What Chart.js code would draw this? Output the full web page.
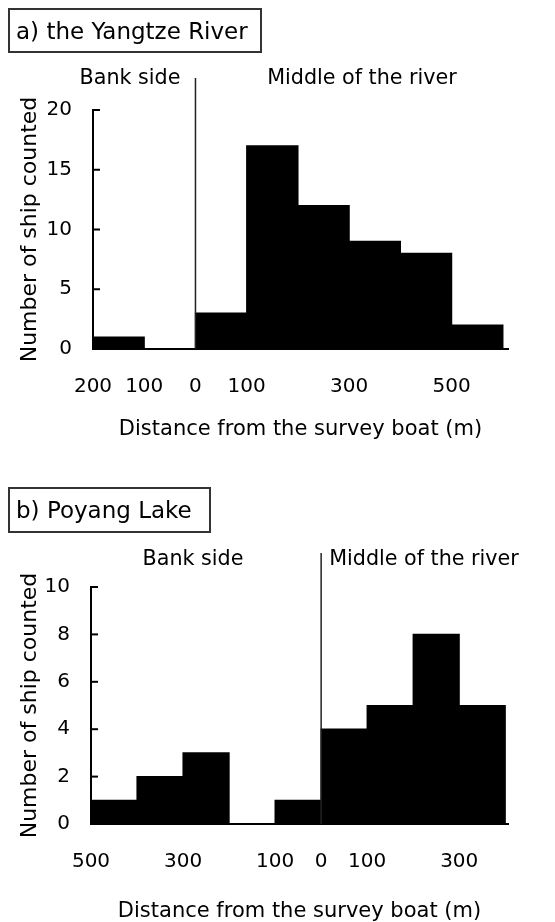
<!DOCTYPE html>
<html>
<head>
<meta charset="utf-8">
<script src="https://cdn.jsdelivr.net/npm/chart.js@4"></script>
<style>
  body { margin: 0; background: #fff; width: 555px; height: 922px; position: relative; overflow: hidden; font-family: "DejaVu Sans", sans-serif; color: #000; }
  .box { position: absolute; border: 2px solid #333; font-size: 23px; display: flex; align-items: center; padding-left: 6px; box-sizing: border-box; white-space: nowrap; }
  .note { position: absolute; font-size: 20.7px; transform: translate(-50%, -50%); white-space: nowrap; }
  canvas { position: absolute; left: 0; }
</style>
</head>
<body>
<canvas id="chartA" width="555" height="460" style="top:0"></canvas>
<canvas id="chartB" width="555" height="462" style="top:460px"></canvas>

<div class="box" style="left:8px;top:8px;width:254px;height:45px">a) the Yangtze River</div>
<div class="note" style="left:130px;top:77px">Bank side</div>
<div class="note" style="left:362px;top:77px">Middle of the river</div>

<div class="box" style="left:8px;top:487px;width:203px;height:46px">b) Poyang Lake</div>
<div class="note" style="left:193px;top:558px">Bank side</div>
<div class="note" style="left:424px;top:558px">Middle of the river</div>

<script>
// a) Yangtze River: bin midpoints (m, bank side negative) and counts
const binsA = [-150, -50, 50, 150, 250, 350, 450, 550];
const countsA = [1, 0, 3, 17, 12, 9, 8, 2];
const xTicksA = [-200, -100, 0, 100, 300, 500];
const xLabelsA = ["200", "100", "0", "100", "300", "500"];

// b) Poyang Lake
const binsB = [-450, -350, -250, -150, -50, 50, 150, 250, 350];
const countsB = [1, 2, 3, 0, 1, 4, 5, 8, 5];
const xTicksB = [-500, -300, -100, 0, 100, 300];
const xLabelsB = ["500", "300", "100", "0", "100", "300"];

const fam = "DejaVu Sans";

// inward y tick marks + bank/middle divider at 0 m
const extras = {
  id: "extras",
  afterDraw(chart, args, opts) {
    const ctx = chart.ctx, x = chart.scales.x, y = chart.scales.y;
    ctx.save();
    ctx.strokeStyle = "#000";
    ctx.lineWidth = 2;
    y.ticks.forEach(t => {
      const py = y.getPixelForValue(t.value);
      ctx.beginPath();
      ctx.moveTo(x.left, py);
      ctx.lineTo(x.left + 7, py);
      ctx.stroke();
    });
    const px = x.getPixelForValue(0);
    ctx.lineWidth = 1.5;
    ctx.strokeStyle = "#222";
    ctx.beginPath();
    ctx.moveTo(px, opts.top);
    ctx.lineTo(px, y.getPixelForValue(0));
    ctx.stroke();
    ctx.restore();
  }
};

function makeChart(id, bins, counts, xTicks, xLabels, xMin, xMax, yMax, yStep, o) {
  return new Chart(id, {
    type: "bar",
    data: {
      datasets: [{
        data: bins.map((b, i) => ({ x: b, y: counts[i] })),
        backgroundColor: "#000",
        borderWidth: 0,
        inflateAmount: 0.6,
        barPercentage: 1,
        categoryPercentage: 1
      }]
    },
    options: {
      responsive: false,
      animation: false,
      layout: { padding: { top: o.top, right: 47, left: 0, bottom: 0 } },
      plugins: { legend: { display: false }, tooltip: { enabled: false }, extras: { top: o.divTop } },
      scales: {
        x: {
          type: "linear", min: xMin, max: xMax, offset: false,
          grid: { display: false, drawTicks: false },
          border: { color: "#000", width: 2 },
          afterBuildTicks: s => { s.ticks = xTicks.map(v => ({ value: v })); },
          afterFit: s => { s.height = o.xh; },
          ticks: {
            autoSkip: false, maxRotation: 0, padding: 26, color: "#000",
            font: { family: fam, size: 20 },
            callback: (v, i) => xLabels[i]
          },
          title: {
            display: true, text: "Distance from the survey boat (m)", color: "#000",
            font: { family: fam, size: 21, lineHeight: 1 },
            padding: { top: 0, bottom: o.titlePad }
          }
        },
        y: {
          min: 0, max: yMax,
          ticks: { stepSize: yStep, padding: 21, color: "#000", font: { family: fam, size: 20 } },
          grid: { display: false, drawTicks: false },
          border: { color: "#000", width: 2 },
          afterFit: s => { s.width = o.yw; },
          title: {
            display: true, text: "Number of ship counted", color: "#000",
            font: { family: fam, size: 22, lineHeight: 1 },
            padding: { top: 19, bottom: 0 }
          }
        }
      }
    },
    plugins: [extras]
  });
}

makeChart("chartA", binsA, countsA, xTicksA, xLabelsA, -200, 610, 20, 5,
  { top: 110, xh: 111, yw: 93, titlePad: 20, divTop: 78 });
makeChart("chartB", binsB, countsB, xTicksB, xLabelsB, -500, 406, 10, 2,
  { top: 127, xh: 98, yw: 91, titlePad: 0, divTop: 93 });
</script>
</body>
</html>
